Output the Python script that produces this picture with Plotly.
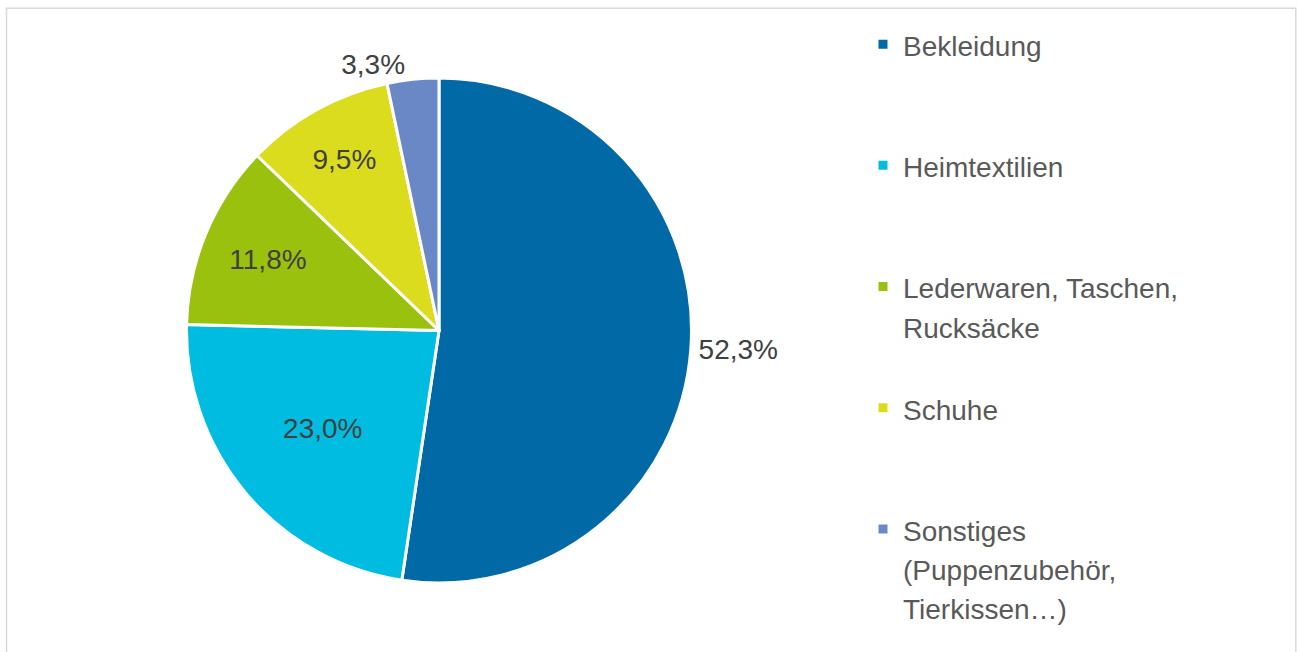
import plotly.graph_objects as go

categories = [
    "Bekleidung",
    "Heimtextilien",
    "Lederwaren, Taschen,<br>Rucksäcke",
    "Schuhe",
    "Sonstiges<br>(Puppenzubehör,<br>Tierkissen…)",
]
values = [52.3, 23.0, 11.8, 9.5, 3.3]
colors = ["#0069A6", "#00BCE1", "#9BC10F", "#DCDC1E", "#6A88C6"]
text_positions = ["outside", "inside", "inside", "inside", "outside"]

W, H = 1297, 652

pct_text = [f"{v:.1f}".replace(".", ",") + "%" for v in values]


def legend_label(cat, n_lines=3):
    lines = cat.split("<br>")
    lines += ["\u00a0"] * (n_lines - len(lines))
    return "<br>".join(f'<span style="font-size:28px">{ln}</span>' for ln in lines)


labels = [legend_label(c) for c in categories]

cx, cy, r = 439, 330.5, 252.5

fig = go.Figure(
    go.Pie(
        labels=labels,
        values=values,
        text=pct_text,
        textinfo="text",
        textposition=text_positions,
        insidetextorientation="horizontal",
        sort=False,
        direction="clockwise",
        rotation=0,
        marker=dict(colors=colors, line=dict(color="white", width=3)),
        textfont=dict(family="Liberation Sans, Arial", size=28, color="#404040"),
        insidetextfont=dict(family="Liberation Sans, Arial", size=28, color="#404040"),
        outsidetextfont=dict(family="Liberation Sans, Arial", size=28, color="#404040"),
        domain=dict(
            x=[(cx - r) / W, (cx + r) / W],
            y=[1 - (cy + r) / H, 1 - (cy - r) / H],
        ),
        hoverinfo="label+text",
    )
)

fig.update_layout(
    width=W,
    height=H,
    margin=dict(l=0, r=0, t=0, b=0),
    paper_bgcolor="white",
    plot_bgcolor="white",
    font=dict(family="Liberation Sans, Arial", color="#595959"),
    legend=dict(
        x=863 / W,
        xanchor="left",
        y=1 - 18 / H,
        yanchor="top",
        valign="top",
        font=dict(family="Liberation Sans, Arial", size=30.3, color="#595959"),
        bgcolor="rgba(0,0,0,0)",
        borderwidth=0,
    ),
    shapes=[
        dict(
            type="rect",
            xref="paper",
            yref="paper",
            x0=6.5 / W,
            x1=1295.8 / W,
            y0=-0.2,
            y1=1 - 8.3 / H,
            line=dict(color="#D9D9D9", width=1.5),
            fillcolor="rgba(0,0,0,0)",
            layer="below",
        )
    ],
)

fig.write_html(
    "out.html",
    config={"displayModeBar": False},
    post_script="document.body.style.margin='0';document.body.style.overflow='hidden';",
)
